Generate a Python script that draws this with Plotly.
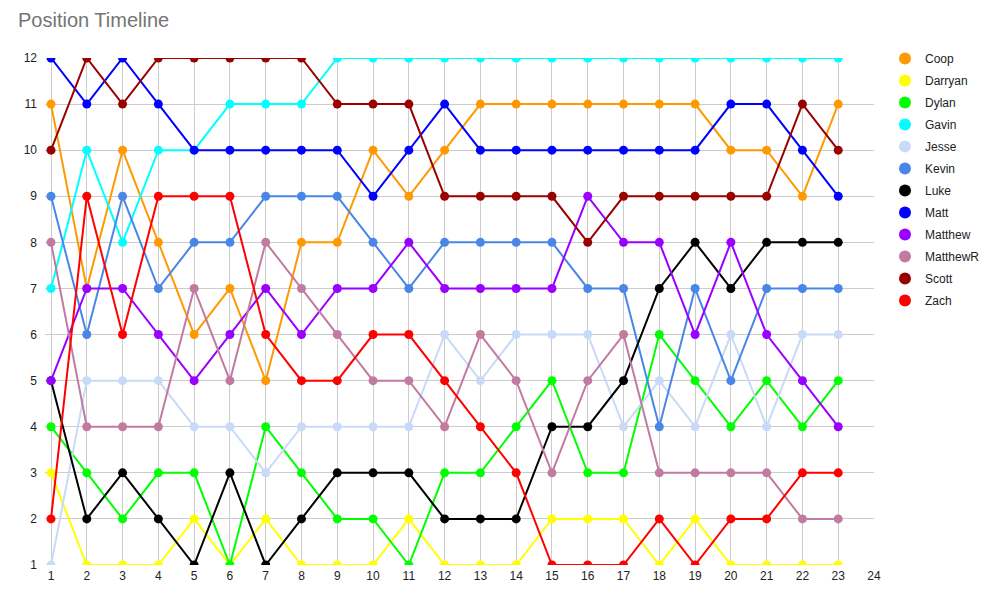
import plotly.graph_objects as go

rounds = list(range(1, 24))
names = ["Coop", "Darryan", "Dylan", "Gavin", "Jesse", "Kevin", "Luke", "Matt",
         "Matthew", "MatthewR", "Scott", "Zach"]
colors = ["#ff9900", "#ffff00", "#00ff00", "#00ffff", "#c9daf8", "#4a86e8",
          "#000000", "#0000ff", "#9900ff", "#c27ba0", "#990000", "#ff0000"]

coop     = [11, 7, 10, 8, 6, 7, 5, 8, 8, 10, 9, 10, 11, 11, 11, 11, 11, 11, 11, 10, 10, 9, 11]
darryan  = [3, 1, 1, 1, 2, 1, 2, 1, 1, 1, 2, 1, 1, 1, 2, 2, 2, 1, 2, 1, 1, 1, 1]
dylan    = [4, 3, 2, 3, 3, 1, 4, 3, 2, 2, 1, 3, 3, 4, 5, 3, 3, 6, 5, 4, 5, 4, 5]
gavin    = [7, 10, 8, 10, 10, 11, 11, 11, 12, 12, 12, 12, 12, 12, 12, 12, 12, 12, 12, 12, 12, 12, 12]
jesse    = [1, 5, 5, 5, 4, 4, 3, 4, 4, 4, 4, 6, 5, 6, 6, 6, 4, 5, 4, 6, 4, 6, 6]
kevin    = [9, 6, 9, 7, 8, 8, 9, 9, 9, 8, 7, 8, 8, 8, 8, 7, 7, 4, 7, 5, 7, 7, 7]
luke     = [5, 2, 3, 2, 1, 3, 1, 2, 3, 3, 3, 2, 2, 2, 4, 4, 5, 7, 8, 7, 8, 8, 8]
matt     = [12, 11, 12, 11, 10, 10, 10, 10, 10, 9, 10, 11, 10, 10, 10, 10, 10, 10, 10, 11, 11, 10, 9]
matthew  = [5, 7, 7, 6, 5, 6, 7, 6, 7, 7, 8, 7, 7, 7, 7, 9, 8, 8, 6, 8, 6, 5, 4]
matthewr = [8, 4, 4, 4, 7, 5, 8, 7, 6, 5, 5, 4, 6, 5, 3, 5, 6, 3, 3, 3, 3, 2, 2]
scott    = [10, 12, 11, 12, 12, 12, 12, 12, 11, 11, 11, 9, 9, 9, 9, 8, 9, 9, 9, 9, 9, 11, 10]
zach     = [2, 9, 6, 9, 9, 9, 6, 5, 5, 6, 6, 5, 4, 3, 1, 1, 1, 2, 1, 2, 2, 3, 3]

series = [coop, darryan, dylan, gavin, jesse, kevin, luke, matt, matthew, matthewr, scott, zach]

x_ticks = list(range(1, 25))
y_ticks = list(range(1, 13))

fig = go.Figure()
for name, color, vals in zip(names, colors, series):
    fig.add_trace(go.Scatter(
        x=rounds, y=vals, name=name, mode="lines+markers",
        line=dict(color=color, width=2),
        marker=dict(color=color, size=9),
        showlegend=False, legendgroup=name, cliponaxis=True,
        hoverinfo="x+y+name"))
for name, color in zip(names, colors):
    fig.add_trace(go.Scatter(
        x=[None], y=[None], name=name, mode="markers",
        marker=dict(color=color, size=12),
        legendgroup=name, showlegend=True))

# page has an 8px body margin; figure sized to fit inside the 989x594 window
OFF = 8
W, H = 989 - OFF, 594 - OFF
plot_left, plot_right, plot_top, plot_bottom = 45, 874, 58, 565  # screen px
l = plot_left - OFF
r = OFF + W - plot_right
t = plot_top - OFF
b = OFF + H - plot_bottom
plot_w = W - l - r
plot_h = H - t - b
unit = (874 - 51) / 23.0
x0 = 1 - (51 - plot_left) / unit

fig.update_layout(
    width=W, height=H,
    margin=dict(l=l, r=r, t=t, b=b, pad=0, autoexpand=False),
    paper_bgcolor="white", plot_bgcolor="white",
    font=dict(family="Arial, Liberation Sans, sans-serif", size=12, color="#222222"),
    title=dict(text="Position Timeline", x=(18 - OFF) / W, xanchor="left", xref="container",
               y=1 - (20 - OFF) / H, yanchor="middle", yref="container",
               font=dict(size=20, color="#757575", family="Arial, Liberation Sans, sans-serif")),
    xaxis=dict(range=[x0, 24], tickvals=x_ticks, ticktext=[str(v) for v in x_ticks],
               showgrid=True, gridcolor="#cccccc", gridwidth=1, zeroline=False,
               showline=False, ticks="", ticklabelstandoff=2, fixedrange=True),
    yaxis=dict(range=[1, 12], tickvals=y_ticks, ticktext=[str(v) for v in y_ticks],
               showgrid=True, gridcolor="#cccccc", gridwidth=1, zeroline=False,
               showline=False, ticks="", ticklabelstandoff=7, fixedrange=True),
    legend=dict(x=(885 - OFF - l) / plot_w, xanchor="left", y=1 + 14 / plot_h,
                yanchor="top", font=dict(size=12, color="#222222"),
                bgcolor="rgba(0,0,0,0)", borderwidth=0, tracegroupgap=3, itemclick=False),
    hovermode="closest",
)

fig.write_html("out.html")
